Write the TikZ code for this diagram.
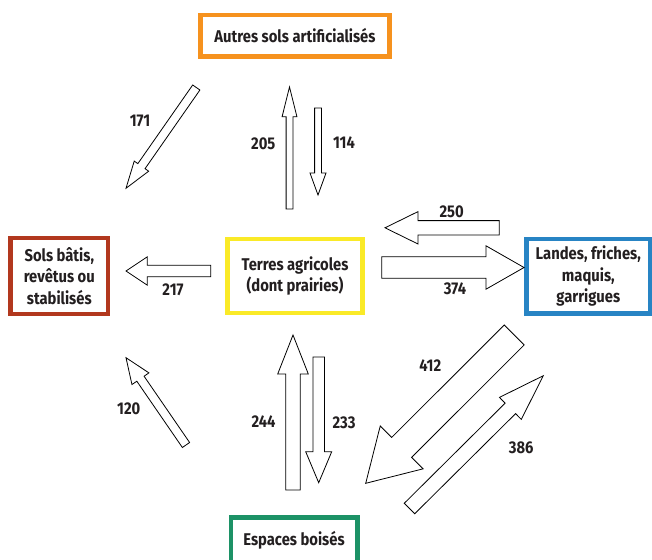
\documentclass[tikz,border=0pt]{standalone}
\usepackage{fontspec}
\setmainfont[FakeStretch=0.87]{Fira Sans}
\usetikzlibrary{calc}

\definecolor{artifOrange}{RGB}{246,146,30}
\definecolor{batiRed}{RGB}{178,56,30}
\definecolor{agriYellow}{RGB}{250,234,40}
\definecolor{landeBlue}{RGB}{40,132,196}
\definecolor{boisGreen}{RGB}{28,146,102}
\definecolor{txtgray}{RGB}{35,31,32}

\tikzset{
  % ----- the land use classes
  landbox/.style={
    draw, line width=4.5pt, fill=white, align=center, inner sep=0pt,
    text=txtgray, font=\bfseries\fontsize{17}{21.5}\selectfont
  },
  % ----- the flow values
  flowval/.style={text=txtgray, inner sep=0pt, font=\bfseries\fontsize{17}{21.5}\selectfont},
  flowline/.style={draw=black, line width=0.8pt, fill=white, line join=miter}
}

% block arrow: tail, tip, half shaft, half head, head length
\newcommand{\flowarrow}[5]{%
  \coordinate (hb) at ($(#2)!#5pt!(#1)$);
  \draw[flowline] ($(#1)!#3pt!90:(#2)$) -- ($(hb)!#3pt!90:(#2)$)
    -- ($(hb)!#4pt!90:(#2)$) -- (#2) -- ($(hb)!#4pt!-90:(#2)$)
    -- ($(hb)!#3pt!-90:(#2)$) -- ($(#1)!#3pt!-90:(#2)$) -- cycle;
}

\begin{document}
\begin{tikzpicture}[x=1pt, y=-1pt]
  \clip (0,0) rectangle (652,559);

  % classes
  \node[landbox, draw=artifOrange, minimum width=189pt, minimum height=41.5pt] (autres) at (295,36) {Autres sols artificialisés};
  \node[landbox, draw=batiRed, minimum width=97.5pt, minimum height=76pt] (bati) at (59.3,276) {Sols bâtis,\\revêtus ou\\stabilisés};
  \node[landbox, draw=agriYellow, minimum width=135pt, minimum height=74pt] (agri) at (295,276) {Terres agricoles\\(dont prairies)};
  \node[landbox, draw=landeBlue, minimum width=123.5pt, minimum height=74.5pt] (landes) at (588.3,276) {Landes, friches,\\maquis,\\garrigues};
  \node[landbox, draw=boisGreen, minimum width=126.5pt, minimum height=46pt] (bois) at (294,540.5) {Espaces boisés};

  % flows: value / tail / tip / half shaft / half head / head length
  \foreach \n/\ax/\ay/\bx/\by/\w/\h/\l in {
      205/289.5/209/289.5/87/3.4/7.4/29.7,
      114/318/108/318/195/3.4/8/22,
      171/196.3/87.5/126/188.3/4.4/8.8/27,
      217/210.7/271/126/271/5.8/14.2/21.3,
      250/499.3/227.8/385/227.8/7.2/16.2/33,
      374/381.7/267.5/524/267.5/10.8/21.7/38,
      120/186/445/126/357.7/4.4/10.3/25.5,
      244/293/490/293/335/7.2/15.3/39,
      233/318.7/357/318.7/482.7/5.7/13/31,
      412/514.2/335/365.7/483.3/14.1/30.3/50.8,
      386/409.5/508.5/543.3/375.7/7.4/15.5/46.4}{
    \coordinate (s\n) at (\ax,\ay);
    \coordinate (t\n) at (\bx,\by);
    \flowarrow{s\n}{t\n}{\w}{\h}{\l}
  }

  % values
  \foreach \n/\x/\y in {171/140/121, 205/263.3/143.3, 114/344/143,
      217/173/290, 250/451.7/211.7, 374/455/289.2, 120/128.8/409.2,
      244/263.5/422, 233/344/422.5, 412/430.3/365.8, 386/521.2/447.5}{
    \node[flowval] (v\n) at (\x,\y) {\n};
  }
\end{tikzpicture}
\end{document}
